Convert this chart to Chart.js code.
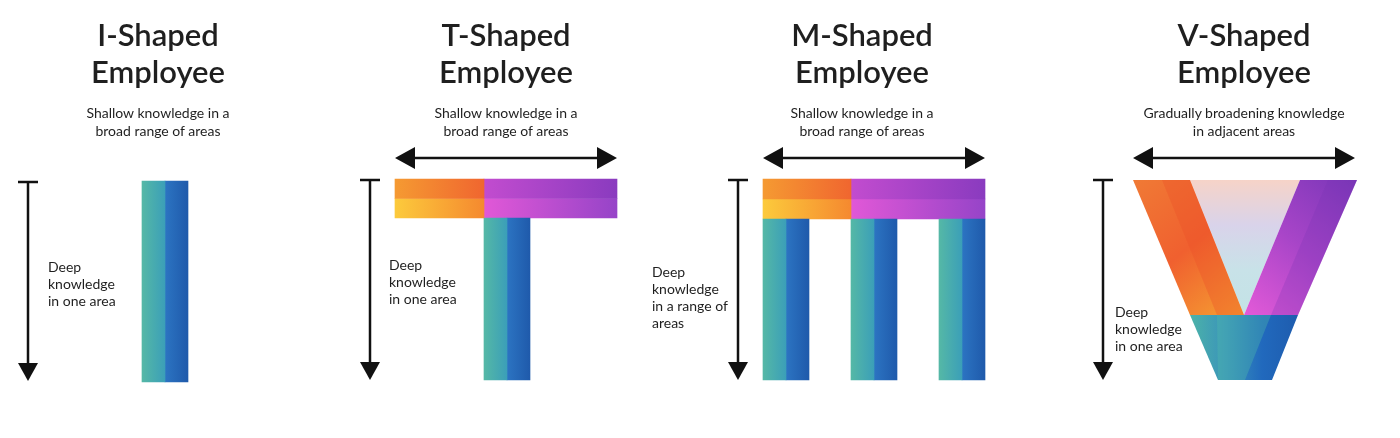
<!DOCTYPE html>
<html>
<head>
<meta charset="utf-8">
<script src="https://cdn.jsdelivr.net/npm/chart.js@4"></script>
<style>
  html, body { margin: 0; padding: 0; background: #fff; }
  #wrap { position: relative; width: 1400px; height: 438px; }
  canvas { position: absolute; left: 0; top: 0; }
  .t { position: absolute; font-family: Lato, sans-serif; color: #1f1f1f; }
  .title { font-size: 31px; font-weight: 600; line-height: 37px; text-align: center; width: 300px; }
  .sub { font-size: 14px; line-height: 18px; text-align: center; width: 260px; }
  .side { font-size: 14px; line-height: 17px; }
</style>
</head>
<body>
<div id="wrap">
  <canvas id="shapes" width="1400" height="438"></canvas>
</div>
<script>
// titles and captions
const titles = [['I-Shaped', 'Employee'], ['T-Shaped', 'Employee'], ['M-Shaped', 'Employee'], ['V-Shaped', 'Employee']];
const titleCenters = [158, 506, 862, 1244];
const subs = [['Shallow knowledge in a', 'broad range of areas'], ['Shallow knowledge in a', 'broad range of areas'],
              ['Shallow knowledge in a', 'broad range of areas'], ['Gradually broadening knowledge', 'in adjacent areas']];
const sides = [['Deep', 'knowledge', 'in one area'], ['Deep', 'knowledge', 'in one area'],
               ['Deep', 'knowledge', 'in a range of', 'areas'], ['Deep', 'knowledge', 'in one area']];
const sideLeft = [48, 389, 652, 1115];
const sideTop = [258, 256, 263, 303];

// vertical stems: center x, top, bottom
const stemCenters = [165, 507, 786, 874, 962];
const stemTops = [181, 218, 219, 219, 219];
const stemBottoms = [382, 380, 380, 380, 380];

// horizontal top bars: left, split, right, top, bottom
const topBars = [[395, 484, 617, 179, 218], [763, 851, 985, 179, 219]];

// arrows
const vArrows = [[28, 182, 381], [370, 180, 380], [738, 180, 380], [1103, 180, 380]];
const hArrows = [[395, 617, 158], [763, 985, 158], [1133, 1355, 158]];

// V shape polygons
const vLeftArm = [[1133, 180], [1190, 180], [1244, 315], [1190, 315]];
const vRightArm = [[1300, 180], [1357, 180], [1298, 315], [1244, 315]];
const vInner = [[1190, 180], [1300, 180], [1244, 315]];
const vBottom = [[1190, 315], [1298, 315], [1272, 380], [1218, 380]];

const wrap = document.getElementById('wrap');
const addText = (cls, lines, css) => {
    const d = document.createElement('div');
    d.className = 't ' + cls;
    d.innerHTML = lines.join('<br>');
    Object.assign(d.style, css);
    wrap.appendChild(d);
};
titles.forEach((l, i) => addText('title', l, { left: (titleCenters[i] - 150) + 'px', top: '16px' }));
subs.forEach((l, i) => addText('sub', l, { left: (titleCenters[i] - 130) + 'px', top: '104px' }));
sides.forEach((l, i) => addText('side', l, { left: sideLeft[i] + 'px', top: sideTop[i] + 'px' }));

// gradient along x of a bar, computed from its data value via the x scale
const hGrad = (c1, c2, widthPx) => (context) => {
    const chart = context.chart;
    const raw = context.raw;
    if (!raw) return c1;
    let cx = chart.scales.x ? chart.scales.x.getPixelForValue(raw.x) : NaN;
    if (!isFinite(cx)) cx = raw.x;
    const g = chart.ctx.createLinearGradient(cx - widthPx / 2, 0, cx + widthPx / 2, 0);
    g.addColorStop(0, c1);
    g.addColorStop(1, c2);
    return g;
};

const datasets = [];
const barSet = (points, width, c1, c2) => datasets.push({
    data: points,
    barThickness: width,
    grouped: false,
    borderWidth: 0,
    backgroundColor: hGrad(c1, c2, width),
});

barSet(stemCenters.map((c, i) => ({ x: c - 11.5, y: [stemTops[i], stemBottoms[i]] })), 23, '#55b8a6', '#3b9fb8');
barSet(stemCenters.map((c, i) => ({ x: c + 11.5, y: [stemTops[i], stemBottoms[i]] })), 23, '#2c74c2', '#1f5aab');

topBars.forEach(([l, s, r, t, b]) => {
    const mid = (t + b) / 2;
    barSet([{ x: (l + s) / 2, y: [t, mid] }], s - l, '#f59a32', '#f0662f');
    barSet([{ x: (l + s) / 2, y: [mid, b] }], s - l, '#fcca3c', '#f5892f');
    barSet([{ x: (s + r) / 2, y: [t, mid] }], r - s, '#c24ccf', '#8a3bbf');
    barSet([{ x: (s + r) / 2, y: [mid, b] }], r - s, '#e158d7', '#9644c8');
});

const decor = {
    id: 'decor',
    afterDatasetsDraw(chart) {
        const { ctx, scales: { x, y } } = chart;
        const P = (p) => [x.getPixelForValue(p[0]), y.getPixelForValue(p[1])];
        const poly = (pts, fill) => {
            ctx.beginPath();
            pts.map(P).forEach(([px, py], i) => i ? ctx.lineTo(px, py) : ctx.moveTo(px, py));
            ctx.closePath();
            ctx.fillStyle = fill;
            ctx.fill();
        };
        const lg = (x0, y0, x1, y1, stops) => {
            const g = ctx.createLinearGradient(x0, y0, x1, y1);
            stops.forEach((c, i) => g.addColorStop(i / (stops.length - 1), c));
            return g;
        };
        ctx.save();
        poly(vInner, lg(0, 180, 0, 315, ['#f6d3c8', '#d9d3ea', '#c8e2e8', '#c3e3e6']));
        poly(vLeftArm, lg(1133, 180, 1244, 315, ['#f07a35', '#f0602f', '#f5a032']));
        poly([[1162, 180], [1190, 180], [1244, 315], [1217, 315]], 'rgba(235,80,40,0.35)');
        poly(vRightArm, lg(1357, 180, 1244, 315, ['#7a36b8', '#a845c8', '#e35ad8']));
        poly([[1328, 180], [1357, 180], [1298, 315], [1271, 315]], 'rgba(120,50,180,0.25)');
        poly(vBottom, lg(1190, 0, 1298, 0, ['#4cb3a8', '#3a93bb', '#2169bd', '#1e5cae']));
        poly([[1217, 315], [1271, 315], [1245, 380], [1218, 380]], 'rgba(80,190,170,0.35)');

        ctx.strokeStyle = '#111';
        ctx.fillStyle = '#111';
        ctx.lineWidth = 2.5;
        vArrows.forEach(([ax, t, b]) => {
            const [px, pt] = P([ax, t]);
            const pb = y.getPixelForValue(b);
            ctx.beginPath();
            ctx.moveTo(px - 10, pt); ctx.lineTo(px + 10, pt);
            ctx.moveTo(px, pt); ctx.lineTo(px, pb - 14);
            ctx.stroke();
            ctx.beginPath();
            ctx.moveTo(px - 10, pb - 18); ctx.lineTo(px + 10, pb - 18); ctx.lineTo(px, pb);
            ctx.closePath(); ctx.fill();
        });
        hArrows.forEach(([l, r, ay]) => {
            const [pl, py] = P([l, ay]);
            const pr = x.getPixelForValue(r);
            ctx.beginPath();
            ctx.moveTo(pl + 14, py); ctx.lineTo(pr - 14, py);
            ctx.stroke();
            ctx.beginPath();
            ctx.moveTo(pl, py); ctx.lineTo(pl + 20, py - 11); ctx.lineTo(pl + 20, py + 11); ctx.closePath();
            ctx.moveTo(pr, py); ctx.lineTo(pr - 20, py - 11); ctx.lineTo(pr - 20, py + 11); ctx.closePath();
            ctx.fill();
        });
        ctx.restore();
    }
};

new Chart(document.getElementById('shapes').getContext('2d'), {
    type: 'bar',
    data: { datasets: datasets },
    options: {
        responsive: false,
        animation: false,
        layout: { padding: 0 },
        scales: {
            x: { type: 'linear', min: 0, max: 1400, offset: false, display: false },
            y: { type: 'linear', min: 0, max: 438, reverse: true, display: false }
        },
        plugins: { legend: { display: false }, tooltip: { enabled: false } }
    },
    plugins: [decor]
});
</script>
</body>
</html>
